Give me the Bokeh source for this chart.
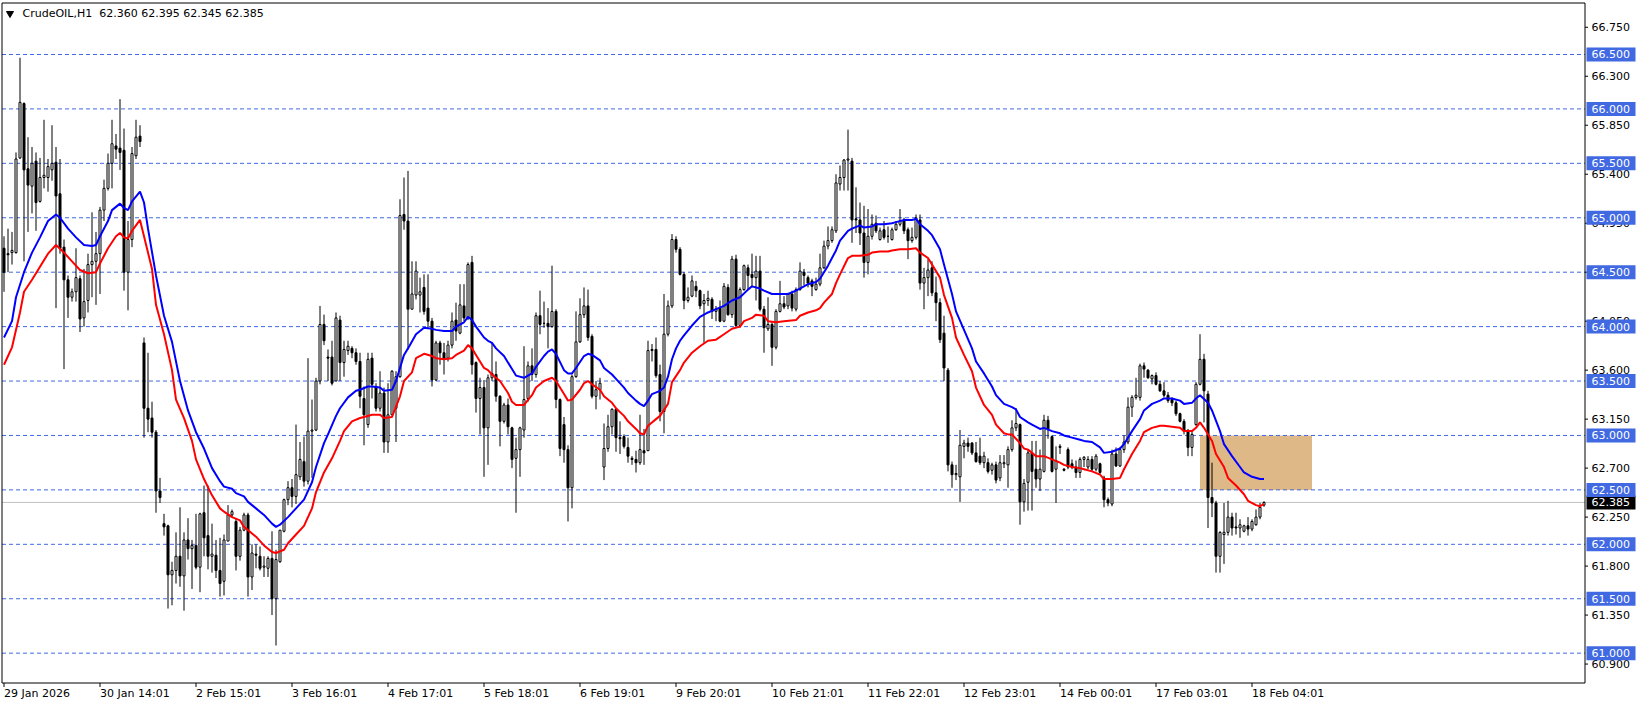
from bokeh.plotting import figure
from bokeh.models import Range1d, ColumnDataSource
from bokeh.core.properties import value
from bokeh.embed import file_html
from bokeh.resources import INLINE

# ---------------- data (hourly CrudeOIL candles) ----------------
opens = [
    64.72, 64.67, 64.68, 64.68, 65.55, 66.05, 65.45, 65.29, 65.52, 65.15,
    65.37, 65.37, 65.44, 65.51, 65.22, 64.73, 64.43, 64.27, 64.32, 64.44,
    64.08, 64.24, 64.57, 64.60, 64.67, 65.07, 65.27, 65.50, 65.66, 65.64,
    65.62, 64.50, 64.80, 65.57, 65.75, 63.85, 63.25, 63.16, 63.03, 62.49,
    62.19, 62.17, 61.72, 61.76, 61.89, 61.71, 62.04, 61.96, 61.99, 61.79,
    62.29, 62.08, 61.89, 61.90, 61.76, 61.66, 62.03, 62.27, 62.21, 61.89,
    62.13, 62.27, 61.70, 61.91, 61.89, 61.79, 61.78, 61.87, 61.50, 61.84,
    62.12, 62.41, 62.52, 62.44, 62.62, 62.76, 62.58, 63.04, 63.05, 63.50,
    64.02, 63.72, 63.72, 63.50, 64.06, 63.67, 63.78, 63.80, 63.76, 63.68,
    63.34, 63.10, 63.71, 63.45, 63.25, 63.39, 62.94, 63.19, 63.25, 63.54,
    65.03, 64.97, 64.16, 64.29, 64.29, 64.36, 64.17, 64.05, 63.51, 63.85,
    63.76, 63.71, 63.83, 64.06, 63.94, 64.19, 64.08, 64.59, 63.67, 63.34,
    63.44, 63.07, 63.53, 63.56, 63.36, 63.13, 63.28, 63.07, 62.79, 62.87,
    63.05, 63.34, 63.64, 63.56, 64.10, 64.03, 64.03, 64.00, 64.14, 63.33,
    63.10, 62.87, 62.52, 63.54, 63.86, 64.11, 64.19, 63.91, 63.36, 63.42,
    62.71, 62.88, 63.08, 63.24, 62.98, 62.99, 62.89, 62.79, 62.78, 62.75,
    62.86, 62.86, 63.78, 63.79, 63.56, 63.22, 63.93, 64.19, 64.80, 64.71,
    64.48, 64.24, 64.28, 64.37, 64.33, 64.21, 64.24, 64.25, 64.14, 64.17,
    64.05, 64.36, 64.11, 64.62, 64.01, 64.34, 64.54, 64.48, 64.45, 64.51,
    64.16, 63.98, 64.02, 63.81, 64.14, 64.21, 64.19, 64.30, 64.16, 64.34,
    64.50, 64.45, 64.42, 64.34, 64.39, 64.54, 64.74, 64.79, 64.88, 65.31,
    65.37, 65.53, 65.52, 64.99, 64.98, 64.86, 64.59, 64.83, 64.95, 64.80,
    64.89, 64.83, 64.80, 64.89, 64.94, 64.98, 64.89, 64.79, 64.82, 64.98,
    64.40, 64.45, 64.54, 64.31, 64.22, 63.94, 63.60, 62.73, 62.64, 62.62,
    62.90, 62.93, 62.93, 62.84, 62.81, 62.75, 62.75, 62.68, 62.73, 62.61,
    62.74, 62.73, 62.87, 63.07, 63.10, 62.39, 62.57, 62.84, 62.69, 62.60,
    62.67, 63.14, 62.99, 62.69, 62.89, 62.69, 62.87, 62.74, 62.71, 62.66,
    62.78, 62.71, 62.78, 62.69, 62.74, 62.61, 62.41, 62.37, 62.83, 62.72,
    62.87, 62.94, 63.26, 63.35, 63.35, 63.64, 63.60, 63.52, 63.55, 63.47,
    63.41, 63.37, 63.33, 63.30, 63.20, 63.13, 63.04, 62.89, 63.10, 63.47,
    63.70, 63.38, 62.43, 62.38, 61.89, 62.09, 62.11, 62.25, 62.16, 62.15,
    62.12, 62.17, 62.14, 62.18, 62.25, 62.36,
]
highs = [
    64.83, 64.90, 64.87, 65.60, 66.47, 66.06, 65.74, 65.65, 65.60, 65.55,
    65.90, 65.54, 65.85, 65.65, 65.54, 64.80, 64.47, 64.35, 64.72, 64.47,
    64.53, 64.67, 65.05, 64.87, 65.10, 65.35, 65.59, 65.90, 65.77, 66.09,
    65.82, 64.97, 65.65, 65.90, 65.85, 63.90, 63.76, 63.31, 63.05, 62.61,
    62.28, 62.18, 61.84, 62.11, 62.34, 62.11, 62.24, 62.04, 62.28, 62.29,
    62.54, 62.54, 62.19, 62.04, 62.06, 62.09, 62.36, 62.32, 62.24, 62.16,
    62.29, 62.29, 62.00, 62.00, 61.98, 61.89, 61.89, 62.12, 61.95, 62.13,
    62.42, 62.58, 62.60, 63.10, 62.94, 62.99, 63.71, 63.33, 63.53, 64.19,
    64.11, 63.79, 63.87, 64.13, 64.10, 63.87, 63.87, 63.82, 63.80, 63.76,
    63.45, 63.76, 63.76, 63.48, 63.59, 63.44, 63.48, 63.60, 63.59, 65.17,
    65.37, 65.43, 64.60, 64.60, 64.45, 64.48, 64.48, 64.08, 63.87, 63.87,
    63.85, 63.87, 64.13, 64.22, 64.39, 64.39, 64.59, 64.65, 63.68, 63.53,
    63.51, 63.56, 63.85, 63.68, 63.37, 63.30, 63.34, 63.08, 62.98, 63.08,
    63.82, 63.68, 63.80, 64.13, 64.33, 64.23, 64.17, 64.56, 64.16, 63.34,
    63.17, 62.91, 63.56, 64.14, 64.26, 64.36, 64.34, 63.93, 63.50, 63.53,
    63.11, 63.19, 63.25, 63.25, 63.13, 63.01, 62.98, 62.81, 62.86, 63.19,
    63.06, 63.87, 63.84, 63.90, 63.65, 64.30, 64.24, 64.85, 64.83, 64.73,
    64.50, 64.36, 64.47, 64.42, 64.34, 64.30, 64.33, 64.27, 64.19, 64.24,
    64.40, 64.39, 64.65, 64.66, 64.36, 64.57, 64.57, 64.67, 64.65, 64.65,
    64.19, 64.27, 64.04, 64.16, 64.42, 64.28, 64.31, 64.33, 64.36, 64.59,
    64.53, 64.47, 64.44, 64.45, 64.67, 64.79, 64.92, 64.92, 65.40, 65.48,
    65.54, 65.81, 65.55, 65.28, 65.14, 65.11, 65.08, 65.03, 65.02, 64.91,
    64.97, 64.92, 64.91, 64.97, 65.08, 65.00, 64.91, 64.91, 65.03, 65.03,
    64.54, 64.62, 64.60, 64.46, 64.26, 64.10, 63.62, 62.76, 62.73, 63.05,
    62.96, 62.98, 62.94, 62.94, 62.98, 62.85, 62.79, 62.75, 62.76, 62.82,
    62.82, 62.90, 63.14, 63.25, 63.11, 62.60, 62.87, 62.95, 62.95, 62.87,
    63.19, 63.18, 63.00, 62.90, 62.92, 62.70, 62.89, 62.78, 62.77, 62.80,
    62.81, 62.81, 62.81, 62.83, 62.75, 62.63, 62.43, 62.87, 62.89, 62.89,
    63.00, 63.35, 63.37, 63.53, 63.66, 63.67, 63.61, 63.56, 63.58, 63.50,
    63.49, 63.40, 63.35, 63.32, 63.21, 63.15, 63.06, 63.04, 63.49, 63.93,
    63.75, 63.41, 62.75, 62.40, 62.12, 62.38, 62.40, 62.29, 62.29, 62.23,
    62.18, 62.25, 62.23, 62.32, 62.38, 62.395,
]
lows = [
    64.32, 64.50, 64.57, 64.67, 65.54, 64.60, 64.87, 65.04, 64.88, 65.14,
    65.27, 65.24, 65.34, 64.17, 64.67, 63.61, 64.08, 64.23, 64.23, 63.95,
    64.00, 64.13, 64.27, 64.20, 64.30, 64.97, 65.25, 65.27, 65.54, 65.44,
    64.33, 64.15, 64.73, 65.54, 65.65, 62.98, 63.03, 62.98, 62.29, 62.38,
    62.08, 61.41, 61.44, 61.64, 61.61, 61.39, 61.86, 61.59, 61.77, 61.56,
    61.89, 61.77, 61.74, 61.69, 61.52, 61.53, 62.03, 62.25, 61.76, 61.85,
    62.12, 61.52, 61.58, 61.78, 61.76, 61.70, 61.70, 61.35, 61.07, 61.83,
    62.11, 62.36, 62.34, 62.37, 62.59, 62.53, 62.55, 62.61, 63.04, 63.47,
    63.83, 63.50, 63.46, 63.50, 63.50, 63.54, 63.74, 63.71, 63.65, 63.25,
    62.91, 63.07, 63.34, 63.22, 63.22, 62.84, 62.84, 63.19, 62.94, 63.53,
    64.89, 63.79, 64.16, 64.25, 64.13, 64.11, 63.99, 63.45, 63.50, 63.65,
    63.56, 63.68, 63.80, 63.87, 63.93, 64.05, 64.06, 63.56, 63.21, 63.01,
    62.62, 62.73, 63.50, 63.31, 62.90, 63.11, 63.01, 62.70, 62.29, 62.62,
    62.98, 63.31, 63.50, 63.53, 63.93, 63.99, 63.80, 63.99, 63.25, 62.81,
    62.75, 62.21, 62.33, 63.53, 63.85, 64.08, 63.87, 63.34, 63.24, 63.33,
    62.59, 62.85, 63.01, 62.85, 62.83, 62.88, 62.75, 62.73, 62.66, 62.73,
    62.73, 62.86, 63.68, 63.53, 63.13, 63.02, 63.91, 64.17, 64.68, 64.47,
    64.16, 64.22, 64.27, 64.27, 64.16, 63.84, 64.19, 64.07, 64.05, 64.04,
    64.04, 64.10, 64.08, 63.99, 63.99, 64.33, 64.34, 64.36, 64.24, 64.14,
    63.76, 63.96, 63.64, 63.79, 64.13, 64.16, 64.16, 64.14, 64.14, 64.33,
    64.38, 64.36, 64.28, 64.33, 64.37, 64.53, 64.71, 64.77, 64.86, 65.25,
    65.25, 65.25, 64.77, 64.86, 64.75, 64.45, 64.48, 64.80, 64.86, 64.79,
    64.80, 64.77, 64.79, 64.88, 64.92, 64.85, 64.62, 64.77, 64.80, 64.34,
    64.16, 64.28, 64.28, 64.05, 63.85, 63.50, 62.67, 62.52, 62.59, 62.39,
    62.79, 62.85, 62.82, 62.75, 62.73, 62.70, 62.65, 62.64, 62.56, 62.58,
    62.70, 62.52, 62.85, 63.04, 62.18, 62.30, 62.31, 62.31, 62.52, 62.49,
    62.66, 62.97, 62.66, 62.38, 62.83, 62.67, 62.69, 62.69, 62.61, 62.61,
    62.71, 62.69, 62.67, 62.67, 62.64, 62.34, 62.35, 62.35, 62.71, 62.71,
    62.84, 62.92, 63.17, 63.33, 63.32, 63.53, 63.52, 63.47, 63.46, 63.40,
    63.35, 63.30, 63.27, 63.18, 63.12, 63.01, 62.81, 62.81, 63.09, 63.46,
    63.12, 62.15, 62.25, 61.74, 61.74, 61.82, 62.08, 62.08, 62.09, 62.06,
    62.11, 62.08, 62.12, 62.17, 62.23, 62.345,
]
closes = [
    64.50, 64.66, 64.70, 65.54, 66.06, 65.44, 65.30, 65.50, 65.14, 65.37,
    65.39, 65.47, 65.50, 65.20, 64.72, 64.43, 64.27, 64.32, 64.45, 64.07,
    64.23, 64.57, 64.60, 64.67, 65.07, 65.27, 65.50, 65.68, 65.63, 65.60,
    64.50, 64.80, 65.59, 65.74, 65.70, 63.25, 63.15, 63.03, 62.49, 62.43,
    62.16, 61.72, 61.76, 61.89, 61.71, 62.04, 61.96, 61.99, 61.79, 62.28,
    62.06, 61.89, 61.91, 61.76, 61.64, 62.04, 62.27, 62.30, 61.89, 62.13,
    62.27, 61.70, 61.92, 61.90, 61.78, 61.80, 61.87, 61.50, 61.86, 62.13,
    62.41, 62.52, 62.44, 62.64, 62.78, 62.58, 63.04, 63.05, 63.50, 64.02,
    63.87, 63.71, 63.48, 64.08, 63.67, 63.79, 63.82, 63.76, 63.68, 63.36,
    63.19, 63.70, 63.47, 63.25, 63.39, 62.94, 63.19, 63.59, 63.54, 65.02,
    64.97, 64.16, 64.30, 64.51, 64.32, 64.14, 64.05, 63.51, 63.85, 63.76,
    63.71, 63.83, 64.05, 63.96, 64.20, 64.08, 64.57, 63.65, 63.34, 63.44,
    63.07, 63.53, 63.57, 63.36, 63.13, 63.28, 63.08, 62.78, 62.87, 63.07,
    63.33, 63.64, 63.56, 64.10, 64.02, 64.03, 64.00, 64.14, 63.33, 62.88,
    62.87, 62.52, 63.54, 63.86, 64.11, 64.19, 63.90, 63.36, 63.42, 63.48,
    62.88, 63.08, 63.24, 62.98, 62.97, 62.90, 62.81, 62.78, 62.75, 62.87,
    62.84, 63.78, 63.79, 63.55, 63.22, 63.93, 64.19, 64.80, 64.71, 64.48,
    64.24, 64.27, 64.42, 64.33, 64.19, 64.24, 64.26, 64.14, 64.16, 64.05,
    64.37, 64.11, 64.62, 64.01, 64.34, 64.56, 64.47, 64.45, 64.51, 64.16,
    63.99, 64.02, 63.81, 64.14, 64.21, 64.18, 64.30, 64.17, 64.34, 64.51,
    64.47, 64.40, 64.37, 64.39, 64.54, 64.74, 64.79, 64.89, 65.32, 65.37,
    65.53, 65.54, 64.98, 64.98, 64.86, 64.59, 64.83, 64.94, 64.88, 64.88,
    64.82, 64.83, 64.89, 64.94, 64.97, 64.88, 64.79, 64.82, 65.00, 64.40,
    64.45, 64.52, 64.31, 64.22, 63.88, 63.62, 62.73, 62.64, 62.65, 62.91,
    62.93, 62.90, 62.84, 62.76, 62.75, 62.81, 62.67, 62.73, 62.59, 62.75,
    62.75, 62.87, 63.07, 63.11, 62.39, 62.56, 62.84, 62.67, 62.60, 62.69,
    63.14, 63.06, 62.67, 62.77, 62.90, 62.68, 62.71, 62.71, 62.66, 62.78,
    62.80, 62.78, 62.69, 62.81, 62.66, 62.41, 62.38, 62.83, 62.72, 62.87,
    62.94, 63.26, 63.35, 63.37, 63.64, 63.61, 63.53, 63.55, 63.47, 63.41,
    63.37, 63.32, 63.30, 63.20, 63.13, 63.04, 62.89, 63.01, 63.47, 63.70,
    63.41, 62.43, 62.38, 61.89, 62.11, 62.11, 62.25, 62.15, 62.15, 62.18,
    62.17, 62.14, 62.21, 62.25, 62.34, 62.385,
]
assert len(opens) == len(highs) == len(lows) == len(closes) == 316

# moving-average lines: bar index and value
ma_blue_bar = [0, 2, 3, 5, 7, 9, 11, 13, 14, 16, 18, 20, 22, 23, 24, 26, 27, 29, 30, 31, 32, 34, 35, 36, 38, 40, 42, 44, 46, 48, 50,
               52, 54, 55, 57, 58, 60, 61, 63, 65, 67, 68, 69, 71, 73, 75, 77, 78, 80, 81, 83, 84, 86, 88, 89, 91, 92, 94, 95, 97, 98, 100, 101, 103,
               105, 107, 108, 110, 112, 113, 115, 116, 117, 118, 120, 121, 122, 123, 125, 127, 128, 130, 132, 133, 135, 136, 137, 138, 140, 141, 142, 143, 145, 146, 147, 149, 150, 152, 153,
               155, 156, 158, 159, 160, 161, 162, 164, 165, 166, 167, 168, 169, 170, 172, 174, 176, 178, 180, 182, 184, 186, 187, 189, 190, 192, 194, 196, 198, 200, 201, 203, 204,
               206, 207, 208, 209, 211, 212, 214, 215, 217, 218, 220, 222, 223, 225, 227, 228, 229, 231, 232, 234, 235, 237, 238, 240, 242, 243, 245, 247, 248, 250, 252, 253, 254,
               256, 257, 259, 260, 262, 264, 265, 267, 269, 270, 272, 274, 275, 277, 279, 280, 282, 284, 285, 287, 289, 290, 292, 294, 295, 297, 298, 299, 301, 302, 304, 305, 307, 309, 310, 312, 314, 315]
ma_blue = [63.90, 64.05, 64.27, 64.50, 64.68, 64.82, 64.97, 65.03, 65.00, 64.90, 64.82, 64.75, 64.74, 64.75, 64.83, 64.97, 65.07, 65.13, 65.09, 65.07, 65.15, 65.24, 65.14, 64.90, 64.47, 64.10, 63.86, 63.50, 63.23, 63.03, 62.88,
           62.70, 62.58, 62.53, 62.51, 62.47, 62.44, 62.39, 62.33, 62.27, 62.19, 62.16, 62.18, 62.25, 62.33, 62.41, 62.57, 62.71, 62.93, 63.01, 63.18, 63.25, 63.35, 63.41, 63.42, 63.45, 63.45, 63.44, 63.41, 63.42, 63.50, 63.74, 63.80, 63.93,
           63.99, 63.98, 63.97, 63.96, 63.96, 64.00, 64.04, 64.09, 64.06, 64.00, 63.90, 63.87, 63.85, 63.80, 63.73, 63.61, 63.55, 63.53, 63.57, 63.63, 63.73, 63.77, 63.79, 63.75, 63.60, 63.57, 63.57, 63.62, 63.73, 63.75, 63.74, 63.69, 63.62, 63.56, 63.52,
           63.44, 63.39, 63.32, 63.29, 63.27, 63.32, 63.38, 63.41, 63.44, 63.54, 63.70, 63.80, 63.87, 63.92, 64.01, 64.09, 64.13, 64.16, 64.19, 64.24, 64.27, 64.34, 64.37, 64.35, 64.33, 64.30, 64.30, 64.30, 64.33, 64.37, 64.39, 64.41, 64.44,
           64.56, 64.63, 64.70, 64.79, 64.88, 64.90, 64.93, 64.91, 64.92, 64.94, 64.94, 64.95, 64.96, 64.98, 64.98, 64.99, 64.94, 64.88, 64.84, 64.71, 64.57, 64.30, 64.14, 63.97, 63.80, 63.68, 63.57, 63.45, 63.37, 63.29, 63.26, 63.24, 63.17,
           63.12, 63.10, 63.06, 63.07, 63.04, 63.02, 63.00, 62.98, 62.96, 62.95, 62.94, 62.89, 62.84, 62.85, 62.88, 62.92, 63.04, 63.15, 63.23, 63.29, 63.32, 63.34, 63.34, 63.32, 63.29, 63.30, 63.34, 63.37, 63.30, 63.23, 63.04, 62.92, 62.81, 62.71, 62.66, 62.62, 62.60, 62.60]

ma_red_bar = [0, 2, 4, 5, 7, 9, 11, 13, 15, 17, 19, 21, 23, 24, 26, 28, 29, 30, 31, 32, 34, 35, 37, 38, 40, 42, 43, 45, 47, 48, 50,
              52, 54, 55, 57, 59, 60, 63, 65, 67, 68, 70, 71, 73, 75, 77, 78, 80, 82, 84, 85, 87, 89, 90, 92, 94, 95, 97, 99, 100,
              102, 103, 105, 107, 108, 110, 112, 113, 115, 116, 117, 118, 120, 121, 122, 124, 126, 127, 128, 130, 132, 133, 135, 137, 138, 140, 141, 142, 144, 145, 146, 147, 149, 150, 152, 153,
              155, 156, 158, 159, 160, 161, 163, 164, 166, 167, 169, 170, 172, 174, 176, 178, 180, 182, 184, 185, 187, 188, 190, 191, 193, 195, 198, 199, 201, 203, 204, 205,
              207, 208, 209, 211, 212, 214, 216, 217, 219, 221, 222, 224, 226, 228, 229, 231, 232, 234, 235, 237, 238, 240, 242, 243, 245, 247, 248, 250, 251, 252, 254, 255,
              256, 258, 260, 262, 264, 265, 267, 269, 270, 272, 274, 275, 277, 279, 280, 282, 284, 285, 287, 289, 290, 292, 294, 295, 297, 298, 299, 300, 302, 303, 305, 306, 308, 310, 311, 313, 314, 315]
ma_red = [63.65, 63.81, 64.13, 64.32, 64.43, 64.55, 64.67, 64.75, 64.68, 64.60, 64.52, 64.49, 64.50, 64.58, 64.72, 64.83, 64.86, 64.82, 64.81, 64.88, 64.98, 64.83, 64.53, 64.20, 63.93, 63.60, 63.33, 63.16, 62.95, 62.78, 62.60,
          62.45, 62.33, 62.30, 62.25, 62.22, 62.16, 62.07, 61.99, 61.93, 61.92, 61.95, 62.01, 62.09, 62.17, 62.33, 62.48, 62.66, 62.79, 62.95, 63.04, 63.13, 63.16, 63.17, 63.19, 63.19, 63.16, 63.17, 63.36, 63.50,
          63.58, 63.71, 63.75, 63.73, 63.71, 63.70, 63.71, 63.74, 63.78, 63.83, 63.80, 63.74, 63.62, 63.60, 63.56, 63.50, 63.39, 63.31, 63.28, 63.28, 63.37, 63.44, 63.50, 63.53, 63.50, 63.38, 63.32, 63.33, 63.42, 63.48, 63.50, 63.47, 63.42, 63.36, 63.30, 63.25,
          63.18, 63.13, 63.06, 63.02, 63.01, 63.09, 63.15, 63.18, 63.29, 63.49, 63.60, 63.67, 63.76, 63.82, 63.87, 63.88, 63.93, 63.98, 64.00, 64.05, 64.08, 64.11, 64.10, 64.05, 64.04, 64.05, 64.06, 64.10, 64.13, 64.15, 64.17, 64.22,
          64.30, 64.40, 64.48, 64.63, 64.65, 64.65, 64.66, 64.68, 64.69, 64.69, 64.70, 64.71, 64.71, 64.72, 64.68, 64.63, 64.57, 64.45, 64.29, 64.08, 63.90, 63.74, 63.59, 63.44, 63.28, 63.19, 63.10, 63.02, 63.01, 63.01, 62.93, 62.88,
          62.87, 62.81, 62.81, 62.78, 62.75, 62.73, 62.71, 62.70, 62.69, 62.67, 62.64, 62.60, 62.60, 62.61, 62.69, 62.83, 62.95, 63.03, 63.07, 63.09, 63.09, 63.08, 63.07, 63.04, 63.04, 63.07, 63.12, 63.07, 62.95, 62.83, 62.71, 62.61, 62.54, 62.46, 62.40, 62.36, 62.35, 62.37]

time_tick_bars = [0, 24, 48, 72, 96, 120, 144, 168, 192, 216, 240, 264, 288, 312]
time_tick_labels = ["29 Jan 2026", "30 Jan 14:01", "2 Feb 15:01", "3 Feb 16:01", "4 Feb 17:01",
                    "5 Feb 18:01", "6 Feb 19:01", "9 Feb 20:01", "10 Feb 21:01", "11 Feb 22:01",
                    "12 Feb 23:01", "14 Feb 00:01", "17 Feb 03:01", "18 Feb 04:01"]
price_ticks = [60.90, 61.35, 61.80, 62.25, 62.70, 63.15, 63.60, 64.05, 64.50, 64.95, 65.40, 65.85, 66.30, 66.75]
level_lines = [61.0, 61.5, 62.0, 62.5, 63.0, 63.5, 64.0, 64.5, 65.0, 65.5, 66.0, 66.5]
last_price = 62.385
zone_bars = [299, 327]
zone_prices = [62.5, 63.0]
symbol = "CrudeOIL,H1"
last_ohlc = ["62.360", "62.395", "62.345", "62.385"]

# ---------------- layout (pixels) & styling ----------------
W, H = 1641, 706
PX_PER_BAR = 4.0
PX_PER_UNIT = 108.85
X0 = -0.875           # bar value at canvas left edge
Y_TOP = 66.996        # price at canvas top edge
FONT = value("DejaVu Sans")
FS = value("11px")
LEVEL_COLOR = "#4169E1"


def xb(px):
    return X0 + px / PX_PER_BAR


def yp(py):
    return Y_TOP - py / PX_PER_UNIT


chart_l, chart_r = xb(1.5), xb(1584.5)
chart_t, chart_b = yp(2.5), yp(682.5)

p = figure(width=W, height=H, output_backend="svg", toolbar_location=None,
           x_range=Range1d(X0, X0 + W / PX_PER_BAR), y_range=Range1d(Y_TOP - H / PX_PER_UNIT, Y_TOP),
           x_axis_location=None, y_axis_location=None, min_border=0,
           background_fill_color="white", border_fill_color="white")
p.outline_line_color = None
p.grid.visible = False

# zone rectangle
p.quad(left=[zone_bars[0]], right=[zone_bars[1]], bottom=[zone_prices[0]], top=[zone_prices[1]],
       fill_color="#DEB887", line_color=None)

# level lines and last-price line
n_lv = len(level_lines)
p.segment(x0=[chart_l] * n_lv, x1=[chart_r] * n_lv, y0=level_lines, y1=level_lines,
          line_color=LEVEL_COLOR, line_dash="4 3", line_width=1)
p.segment(x0=[chart_l], x1=[chart_r], y0=[last_price], y1=[last_price], line_color="#C0C0C0", line_width=1)

# candles
idx = list(range(len(opens)))
tops = [max(o, c) for o, c in zip(opens, closes)]
bottoms = [min(o, c) for o, c in zip(opens, closes)]
fills = ["white" if c >= o else "black" for o, c in zip(opens, closes)]
src = ColumnDataSource(dict(x=idx, h=highs, l=lows, top=tops, bottom=bottoms, fill=fills))
p.segment(x0="x", y0="l", x1="x", y1="h", line_color="black", line_width=1, source=src)
p.vbar(x="x", width=0.5, top="top", bottom="bottom", fill_color="fill",
       line_color="black", line_width=1, source=src)

# moving averages
p.line(ma_blue_bar, ma_blue, line_color="#0000FF", line_width=2)
p.line(ma_red_bar, ma_red, line_color="#FF0000", line_width=2)

# chart border
p.quad(left=[chart_l], right=[chart_r], bottom=[chart_b], top=[chart_t],
       fill_color=None, line_color="black", line_width=1)

# right price scale: ticks + labels
n_pt = len(price_ticks)
p.segment(x0=[chart_r] * n_pt, x1=[xb(1587.5)] * n_pt, y0=price_ticks, y1=price_ticks,
          line_color="black", line_width=1)
p.text(x=[xb(1591)] * n_pt, y=price_ticks, text=[f"{t:.3f}" for t in price_ticks],
       text_font=FONT, text_font_size=FS, text_color="black", text_align="left", text_baseline="middle")

# current price box, then level price boxes
box_x = xb(1610.5)
p.rect(x=[box_x], y=[last_price], width=49, height=14, width_units="screen", height_units="screen",
       fill_color="black", line_color=None)
p.text(x=[xb(1591)], y=[last_price], text=[f"{last_price:.3f}"],
       text_font=FONT, text_font_size=FS, text_color="white", text_align="left", text_baseline="middle")
p.rect(x=[box_x] * n_lv, y=level_lines, width=49, height=14, width_units="screen", height_units="screen",
       fill_color=LEVEL_COLOR, line_color=None)
p.text(x=[xb(1591)] * n_lv, y=level_lines, text=[f"{lv:.3f}" for lv in level_lines],
       text_font=FONT, text_font_size=FS, text_color="white", text_align="left", text_baseline="middle")

# time scale: ticks + left-aligned labels
n_tt = len(time_tick_bars)
p.segment(x0=time_tick_bars, x1=time_tick_bars, y0=[chart_b] * n_tt, y1=[yp(686.5)] * n_tt,
          line_color="black", line_width=1)
p.text(x=time_tick_bars, y=[yp(686)] * n_tt, text=time_tick_labels,
       text_font=FONT, text_font_size=FS, text_color="black", text_align="left", text_baseline="top")

# header
p.scatter(x=[xb(9.5)], y=[yp(13)], marker="inverted_triangle", size=7, fill_color="black", line_color="black")
p.text(x=[xb(22)], y=[yp(13)], text=[symbol + "\u00a0\u00a0" + " ".join(last_ohlc)],
       text_font=FONT, text_font_size=FS, text_color="black", text_align="left", text_baseline="middle")

open("out.html", "w").write(file_html(p, INLINE))
